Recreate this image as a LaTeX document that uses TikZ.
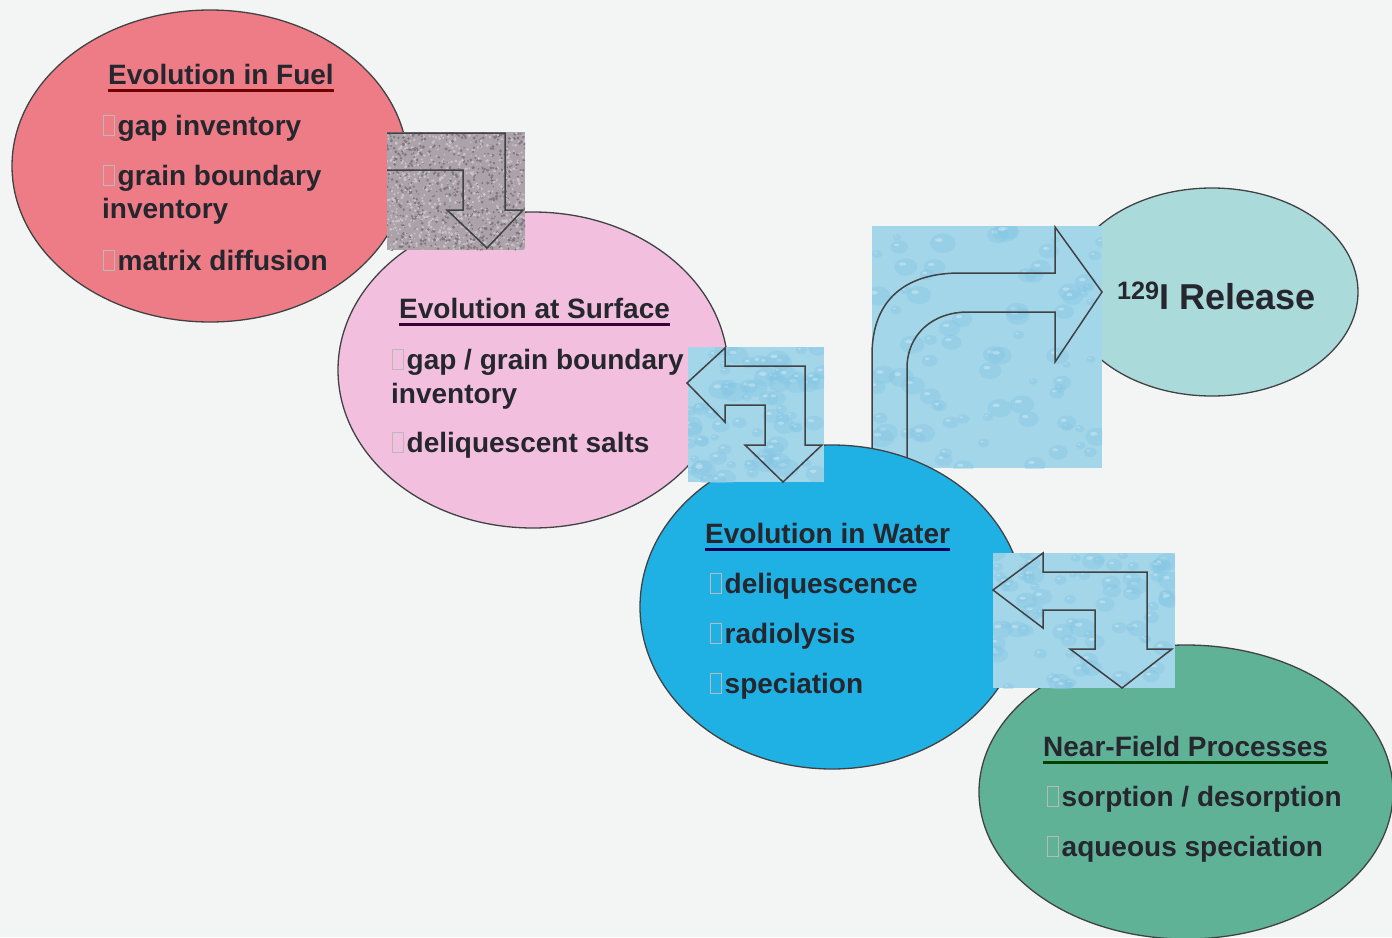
\documentclass[tikz,border=0pt]{standalone}
\usepackage{fontspec}
\setmainfont{Liberation Sans}

\definecolor{bgcol}{RGB}{243,245,244}
\definecolor{txt}{RGB}{38,38,46}
\definecolor{rim}{RGB}{64,66,68}
\definecolor{fuelcol}{RGB}{238,124,134}
\definecolor{surfcol}{RGB}{242,192,222}
\definecolor{watercol}{RGB}{31,176,228}
\definecolor{relcol}{RGB}{170,218,218}
\definecolor{nfcol}{RGB}{95,178,150}
\definecolor{dropbase}{RGB}{164,214,234}
\definecolor{dropdark}{RGB}{132,198,228}
\definecolor{granite}{RGB}{172,162,170}

% empty bullet box
\newcommand{\bul}{\textcolor{gray!55}{\fboxsep=0pt\fboxrule=1pt\fbox{\rule{0pt}{19pt}\rule{10pt}{0pt}}}\kern2.5pt}

% water drop texture in a rectangle
\newcommand{\waterbox}[4]{%
  \begin{scope}
    \clip (#1,#2) rectangle (#3,#4);
    \fill[dropbase] (#1,#2) rectangle (#3,#4);
    \foreach \k in {1,...,80}{
      \pgfmathsetmacro\dx{#1+rnd*(#3-#1)}
      \pgfmathsetmacro\dy{#2+rnd*(#4-#2)}
      \pgfmathsetmacro\dr{4+rnd*9}
      \fill[dropdark,opacity=.4] (\dx,\dy) ellipse [x radius=\dr, y radius=0.75*\dr];
      \fill[white,opacity=.3] (\dx-0.3*\dr,\dy-0.25*\dr) ellipse [x radius=0.3*\dr, y radius=0.15*\dr];
    }
  \end{scope}}

% speckled grey texture
\newcommand{\granitebox}[4]{%
  \begin{scope}
    \clip (#1,#2) rectangle (#3,#4);
    \fill[granite] (#1,#2) rectangle (#3,#4);
    \foreach \k in {1,...,650}{
      \pgfmathsetmacro\dx{#1+rnd*(#3-#1)}
      \pgfmathsetmacro\dy{#2+rnd*(#4-#2)}
      \fill[black!25!granite] (\dx,\dy) circle [radius=0.7+rnd];
      \pgfmathsetmacro\dx{#1+rnd*(#3-#1)}
      \pgfmathsetmacro\dy{#2+rnd*(#4-#2)}
      \fill[white!35!granite] (\dx,\dy) circle [radius=0.7+rnd];
    }
  \end{scope}}

\begin{document}
\begin{tikzpicture}[x=1pt,y=-1pt,
    blob/.style={draw=rim,line width=1.3pt},
    head/.style={anchor=base west,inner sep=0pt,text=txt,font=\bfseries\fontsize{28}{33}\selectfont},
    item/.style={head},
    ul/.style={line width=2.4pt},
    blockarrow/.style={draw=rim,line width=1.5pt,line join=miter}]
    \pgfmathsetseed{17}
    \useasboundingbox (0,0) rectangle (1392,937);
    \clip (0,0) rectangle (1392,937);
    \fill[bgcol] (0,0) rectangle (1392,937);

    % ellipses behind the large arrow
    \filldraw[blob,fill=fuelcol] (210,166) ellipse [x radius=198, y radius=156];
    \filldraw[blob,fill=surfcol] (533,370) ellipse [x radius=195, y radius=158];
    \filldraw[blob,fill=relcol] (1212,292) ellipse [x radius=146, y radius=104];

    % curved arrow to the release
    \waterbox{872}{226}{1102}{468}
    \draw[blockarrow] (872,468) -- (872,355) .. controls (872,300) and (905,273) .. (960,273)
        -- (1055,273) -- (1055,227) -- (1102,292) -- (1055,362) -- (1055,312) -- (968,312)
        .. controls (932,312) and (907,335) .. (907,368) -- (907,468);

    \filldraw[blob,fill=watercol] (832,607) ellipse [x radius=192, y radius=162];
    \filldraw[blob,fill=nfcol] (1186,792) ellipse [x radius=207, y radius=147];

    % fuel -> surface
    \granitebox{387}{132}{525}{250}
    \draw[blockarrow] (387,133) -- (505,133) -- (505,210) -- (523,210) -- (487,248)
        -- (447,210) -- (463,210) -- (463,170) -- (387,170);

    % surface <-> water
    \waterbox{688}{347}{824}{482}
    \draw[blockarrow] (687,383) -- (725,348) -- (725,366) -- (805,366) -- (805,445)
        -- (822,445) -- (783,482) -- (745,445) -- (765,445) -- (765,405) -- (725,405)
        -- (725,422) -- cycle;

    % water <-> near field
    \waterbox{993}{553}{1175}{688}
    \draw[blockarrow] (993,590) -- (1043,553) -- (1043,572) -- (1147,572) -- (1147,649)
        -- (1172,649) -- (1122,688) -- (1070,649) -- (1095,649) -- (1095,610) -- (1043,610)
        -- (1043,628) -- cycle;

    % texts
    \node[head] (fuelT) at (108,84) {Evolution in Fuel};
    \node[item] (fuel1) at (103,135) {\bul gap inventory};
    \node[item] (fuel2) at (103,185) {\bul grain boundary};
    \node[item] (fuel3) at (102,218) {inventory};
    \node[item] (fuel4) at (103,270) {\bul matrix diffusion};
    \draw[ul,red!45!black] ([yshift=-6pt]fuelT.south west) -- ([yshift=-6pt]fuelT.south east);

    \node[head] (surfT) at (399,318) {Evolution at Surface};
    \node[item] (surf1) at (392,369) {\bul gap / grain boundary};
    \node[item] (surf2) at (391,403) {inventory};
    \node[item] (surf3) at (392,452) {\bul deliquescent salts};
    \draw[ul,violet!45!black] ([yshift=-6pt]surfT.south west) -- ([yshift=-6pt]surfT.south east);

    \node[head] (waterT) at (705,543) {Evolution in Water};
    \node[item] (water1) at (710,593) {\bul deliquescence};
    \node[item] (water2) at (710,643) {\bul radiolysis};
    \node[item] (water3) at (710,693) {\bul speciation};
    \draw[ul,blue!35!black] ([yshift=-6pt]waterT.south west) -- ([yshift=-6pt]waterT.south east);

    \node[head] (nfT) at (1043,756) {Near-Field Processes};
    \node[item] (nf1) at (1047,806) {\bul sorption / desorption};
    \node[item] (nf2) at (1047,856) {\bul aqueous speciation};
    \draw[ul,green!25!black] ([yshift=-6pt]nfT.south west) -- ([yshift=-6pt]nfT.south east);

    \node[head,font=\bfseries\fontsize{36}{40}\selectfont] (rel) at (1117,309) {\textsuperscript{129}I Release};
\end{tikzpicture}
\end{document}
